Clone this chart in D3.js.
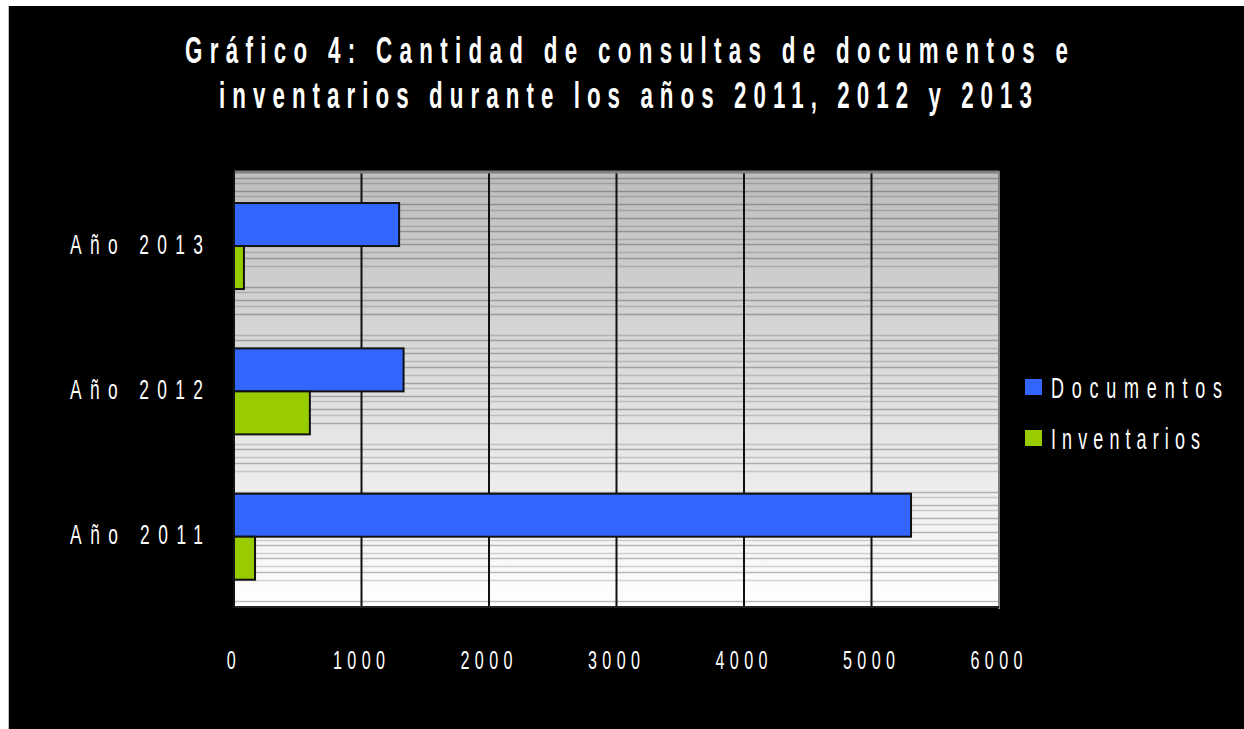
<!DOCTYPE html>
<html><head><meta charset="utf-8">
<script src="https://cdn.jsdelivr.net/npm/d3@7"></script>
<style>html,body{margin:0;padding:0;background:#fff;}svg{display:block;}</style>
</head><body>
<svg id="chart" width="1244" height="729"></svg>
<script>
const categories = ["Año 2011", "Año 2012", "Año 2013"];
const seriesNames = ["Documentos", "Inventarios"];
const documentos = [5310, 1330, 1295];
const inventarios = [165, 595, 78];
const xTicks = [0, 1000, 2000, 3000, 4000, 5000, 6000];
const titleLines = ["Gráfico 4: Cantidad de consultas de documentos e", "inventarios durante los años 2011, 2012 y 2013"];
const colors = ["#3366ff", "#99cc00"];

const svg = d3.select("#chart");
const FONT = "'Liberation Sans', Arial, sans-serif";
const SX = 0.62;

function stretchedText(g, str, left, baseline, size, weight, width) {
  return g.append("text")
    .attr("transform", `translate(${left},${baseline}) scale(${SX},1)`)
    .attr("x", 0).attr("y", 0)
    .attr("font-family", FONT).attr("font-size", size).attr("font-weight", weight)
    .attr("fill", "#fff")
    .attr("textLength", width / SX).attr("lengthAdjust", "spacing")
    .text(str);
}

// black panel
svg.append("rect").attr("x", 8).attr("y", 6).attr("width", 1244 - 8).attr("height", 729 - 6)
  .attr("fill", "#000");
svg.append("line").attr("x1", 8.5).attr("x2", 8.5).attr("y1", 6).attr("y2", 729).attr("stroke", "#bbb").attr("stroke-width", 1);

// title
const tg = svg.append("g");
stretchedText(tg, titleLines[0], 185, 63, 36, "bold", 883);
stretchedText(tg, titleLines[1], 219, 108, 36, "bold", 813);

const plot = {left: 234, right: 999, top: 171, bottom: 607};
const x = d3.scaleLinear().domain([0, 6000]).range([plot.left, plot.right]);
const yOrder = categories.slice().reverse();
const y = d3.scaleBand().domain(yOrder).range([plot.top, plot.bottom]).padding(0);
const y1 = d3.scaleBand().domain(seriesNames).range([0, y.bandwidth()])
  .paddingInner(0).paddingOuter(0.69).align(0.54);

// background gradient
const defs = svg.append("defs");
const grad = defs.append("linearGradient").attr("id", "bg").attr("x1", 0).attr("x2", 0).attr("y1", 0).attr("y2", 1);
grad.append("stop").attr("offset", "0%").attr("stop-color", "#bdbdbd");
grad.append("stop").attr("offset", "50%").attr("stop-color", "#dedede");
grad.append("stop").attr("offset", "100%").attr("stop-color", "#ffffff");
svg.append("rect").attr("x", plot.left).attr("y", plot.top)
  .attr("width", plot.right - plot.left).attr("height", plot.bottom - plot.top)
  .attr("fill", "url(#bg)");

// banding stripes (decorative texture)
const gapCycle = [5, 8, 5, 8, 6, 8, 8, 5, 8, 5, 8, 6, 8, 21, 5, 8, 6, 8, 21];
const stripes = [];
let sy = plot.top + 7, gi = 0;
while (sy < plot.bottom - 4) { stripes.push({y: sy, k: gi}); sy += gapCycle[gi % gapCycle.length]; gi++; }
svg.append("g").selectAll("line").data(stripes).join("line")
  .attr("x1", plot.left).attr("x2", plot.right)
  .attr("y1", d => Math.round(d.y) + 0.5).attr("y2", d => Math.round(d.y) + 0.5)
  .attr("stroke", "#000").attr("stroke-opacity", d => d.k % 2 ? 0.16 : 0.26).attr("stroke-width", 1.5);

// vertical gridlines
svg.append("g").selectAll("line").data(xTicks.slice(1, -1)).join("line")
  .attr("x1", d => x(d)).attr("x2", d => x(d))
  .attr("y1", plot.top).attr("y2", plot.bottom)
  .attr("stroke", "#111").attr("stroke-width", 2);

// borders
svg.append("line").attr("x1", plot.left).attr("x2", plot.right).attr("y1", plot.top + 1).attr("y2", plot.top + 1)
  .attr("stroke", "#808080").attr("stroke-width", 3);
svg.append("line").attr("x1", plot.right).attr("x2", plot.right).attr("y1", plot.top).attr("y2", plot.bottom + 2)
  .attr("stroke", "#808080").attr("stroke-width", 2);
svg.append("line").attr("x1", plot.left).attr("x2", plot.right).attr("y1", plot.bottom).attr("y2", plot.bottom)
  .attr("stroke", "#222").attr("stroke-width", 2);
svg.append("line").attr("x1", plot.left).attr("x2", plot.left).attr("y1", plot.top).attr("y2", plot.bottom + 2)
  .attr("stroke", "#111").attr("stroke-width", 2);

// bars
const rows = categories.map((c, i) => ({cat: c, values: [documentos[i], inventarios[i]]}));
const groups = svg.append("g").selectAll("g").data(rows).join("g")
  .attr("transform", d => `translate(0,${y(d.cat)})`);
groups.selectAll("rect").data(d => d.values.map((v, j) => ({s: seriesNames[j], v, j}))).join("rect")
  .attr("x", x(0)).attr("y", d => y1(d.s))
  .attr("width", d => x(d.v) - x(0)).attr("height", y1.bandwidth())
  .attr("fill", d => colors[d.j]).attr("stroke", "#111").attr("stroke-width", 2);

// y labels
const yl = svg.append("g");
categories.forEach(c => {
  stretchedText(yl, c, 70, y(c) + y.bandwidth() / 2 + 10, 28, "normal", 133);
});

// x tick labels
const xl = svg.append("g");
xTicks.forEach(t => {
  const s = String(t);
  const w = s.length === 1 ? 9.5 : 52;
  stretchedText(xl, s, x(t) - 2.5 - w / 2, 669, 26, "normal", w);
});

// legend
const lg = svg.append("g");
const legendWidths = [171, 149];
seriesNames.forEach((n, i) => {
  const top = 379 + i * 51;
  lg.append("rect").attr("x", 1025).attr("y", top).attr("width", 17).attr("height", 16).attr("fill", colors[i]);
  stretchedText(lg, n, 1051, top + 19, 29, "normal", legendWidths[i]);
});
</script>
</body></html>
